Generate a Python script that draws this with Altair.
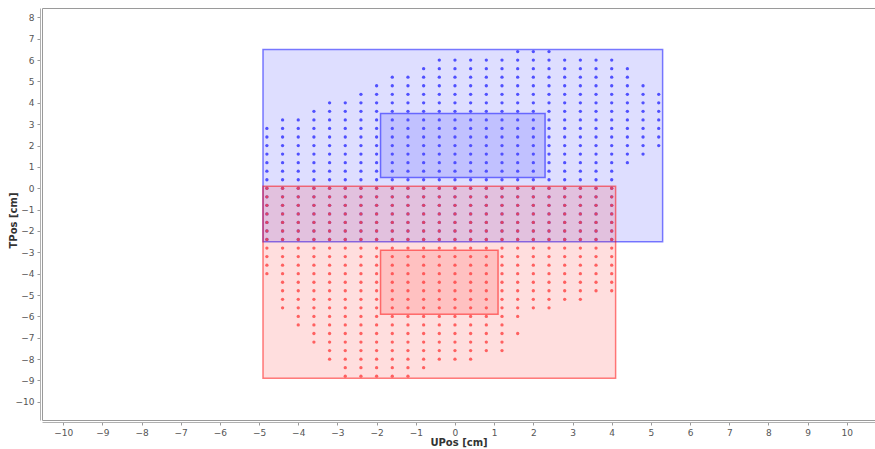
import altair as alt
import pandas as pd

# Grid spacing of the sample points (cm)
STEP = 0.4

# Blue set: one column per UPos value, with lowest and highest TPos sample
blue_u = [-4.8, -4.4, -4.0, -3.6, -3.2, -2.8, -2.4, -2.0, -1.6, -1.2, -0.8, -0.4, 0.0,
          0.4, 0.8, 1.2, 1.6, 2.0, 2.4, 2.8, 3.2, 3.6, 4.0, 4.4, 4.8, 5.2]
blue_top = [2.8, 3.2, 3.2, 3.6, 4.0, 4.0, 4.4, 4.8, 5.2, 5.2, 5.6, 6.0, 6.0,
            6.0, 6.0, 6.0, 6.4, 6.4, 6.4, 6.0, 6.0, 6.0, 6.0, 5.6, 4.8, 4.4]
blue_bottom = [-2.4, -2.4, -2.4, -2.4, -2.4, -2.4, -2.4, -2.4, -2.4, -2.4, -2.4, -2.4, -2.4,
               -2.4, -2.4, -2.4, -2.4, -2.4, -2.4, -2.4, -2.4, -2.4, -2.4, 1.2, 1.6, 2.0]

# Red set
red_u = [-4.8, -4.4, -4.0, -3.6, -3.2, -2.8, -2.4, -2.0, -1.6, -1.2, -0.8, -0.4, 0.0,
         0.4, 0.8, 1.2, 1.6, 2.0, 2.4, 2.8, 3.2, 3.6, 4.0]
red_top = [0.0] * 23
red_bottom = [-4.0, -5.6, -6.4, -7.2, -8.0, -8.8, -8.8, -8.8, -8.8, -8.8, -8.4, -8.0, -8.0,
              -8.0, -7.6, -7.6, -6.0, -5.6, -5.6, -5.2, -5.2, -4.8, -4.8]
red_extra_u = [1.6]
red_extra_t = [-6.8]

# Bounding boxes: outer (all samples) and inner (core region)
box_name = ["blue_outer", "blue_inner", "red_outer", "red_inner"]
box_set = ["blue", "blue", "red", "red"]
box_u0 = [-4.9, -1.9, -4.9, -1.9]
box_u1 = [5.3, 2.3, 4.1, 1.1]
box_t0 = [-2.5, 0.5, -8.9, -5.9]
box_t1 = [6.5, 3.5, 0.1, -2.9]

ticks = list(range(-10, 11))


def expand(us, lows, highs, label):
    rows = []
    for u, lo, hi in zip(us, lows, highs):
        n = int(round((hi - lo) / STEP))
        for k in range(n + 1):
            rows.append({"u": u, "t": round(lo + k * STEP, 2), "set": label})
    return rows


blue_pts = pd.DataFrame(expand(blue_u, blue_bottom, blue_top, "blue"))
red_pts = pd.DataFrame(
    expand(red_u, red_bottom, red_top, "red")
    + [{"u": u, "t": t, "set": "red"} for u, t in zip(red_extra_u, red_extra_t)]
)
boxes = pd.DataFrame({"name": box_name, "set": box_set, "u0": box_u0, "u1": box_u1,
                      "t0": box_t0, "t1": box_t1})

x_scale = alt.Scale(domain=[-10.54, 10.72], nice=False, zero=False)
y_scale = alt.Scale(domain=[-10.85, 8.44], nice=False, zero=False)
color_scale = alt.Scale(domain=["blue", "red"], range=["#0000ff", "#ff0000"])

x_axis = alt.Axis(title="UPos [cm]", values=ticks, format="d", grid=False,
                  labelOverlap=False, titlePadding=0)
y_axis = alt.Axis(title="TPos [cm]", values=ticks, format="d", grid=False,
                  labelOverlap=False, titleX=-22, titleY=212)

rects = alt.Chart(boxes).mark_rect(
    fillOpacity=0.13, strokeOpacity=0.5, strokeWidth=1.5
).encode(
    x=alt.X("u0:Q", scale=x_scale, axis=x_axis),
    x2="u1:Q",
    y=alt.Y("t0:Q", scale=y_scale, axis=y_axis),
    y2="t1:Q",
    fill=alt.Fill("set:N", scale=color_scale, legend=None),
    stroke=alt.Stroke("set:N", scale=color_scale, legend=None),
    order=alt.Order("name:N"),
)

blue_dots = alt.Chart(blue_pts).mark_circle(size=11, opacity=1, color="#5050ff").encode(
    x=alt.X("u:Q", scale=x_scale, axis=x_axis),
    y=alt.Y("t:Q", scale=y_scale, axis=y_axis),
)

red_dots = alt.Chart(red_pts).mark_circle(size=11, opacity=0.8, color="#ff4040").encode(
    x=alt.X("u:Q", scale=x_scale, axis=x_axis),
    y=alt.Y("t:Q", scale=y_scale, axis=y_axis),
)

chart = alt.layer(rects, blue_dots, red_dots).properties(
    width=833,
    height=412,
    autosize="none",
    padding={"left": 42, "top": 8, "right": 0, "bottom": 29},
).configure_view(
    stroke="#9a9a9a", strokeWidth=1
).configure_axis(
    offset=2,
    domainColor="#b0b0b0",
    tickColor="#999999",
    tickSize=3,
    labelColor="#555555",
    labelFontSize=9,
    labelFont="DejaVu Sans",
    titleFont="DejaVu Sans",
    titleFontSize=10,
    titleFontWeight="bold",
    titleColor="#333333",
    labelPadding=3,
)

chart.save("out.html", embed_options={"renderer": "svg", "actions": False})
